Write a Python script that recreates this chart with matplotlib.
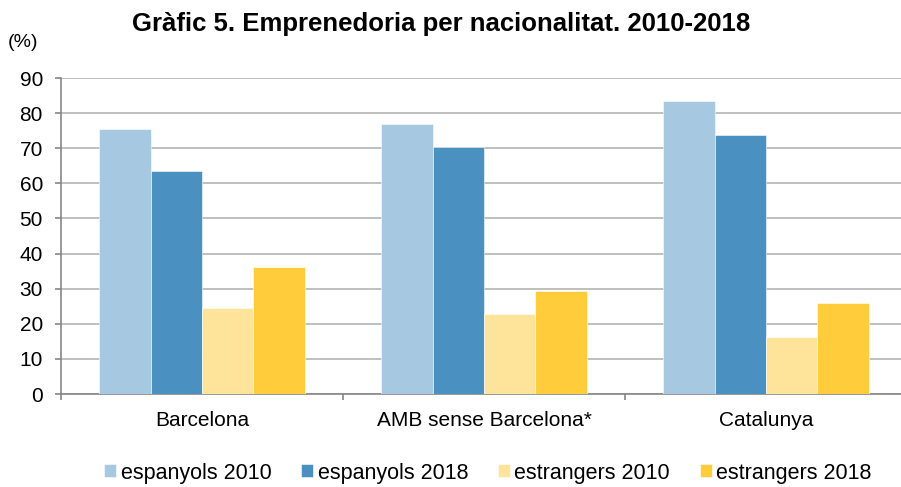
import numpy as np
import matplotlib
matplotlib.use("Agg")
import matplotlib.pyplot as plt

plt.rcParams["font.family"] = ["Liberation Sans", "DejaVu Sans"]

# ── data ------------------------------------------------------------------- #
categories = ["Barcelona", "AMB sense Barcelona*", "Catalunya"]
series = ["espanyols 2010", "espanyols 2018", "estrangers 2010", "estrangers 2018"]
esp_2010 = [75.4, 76.9, 83.5]
esp_2018 = [63.6, 70.3, 73.8]
estr_2010 = [24.4, 22.8, 16.2]
estr_2018 = [36.1, 29.4, 25.8]
values = [esp_2010, esp_2018, estr_2010, estr_2018]
colors = ["#A6C8E0", "#4A91C2", "#FEE49B", "#FFCD3B"]
yticks = list(range(0, 91, 10))

# ── figure ----------------------------------------------------------------- #
fig = plt.figure(figsize=(9.01, 4.87), dpi=100)
ax = fig.add_axes([61 / 901, 93 / 487, 846 / 901, 316 / 487])

x = np.arange(len(categories))
w = 0.182
for i, (name, vals, c) in enumerate(zip(series, values, colors)):
    ax.bar(x + (i - 1.5) * w, vals, w, color=c, label=name,
           edgecolor="white", linewidth=0.4, zorder=3)

ax.set_xlim(-0.5, len(categories) - 0.5)
ax.set_ylim(0, 90)
ax.set_yticks(yticks)
ax.set_yticklabels([str(t) for t in yticks], fontsize=15)
ax.yaxis.grid(True, color="#BFBFBF", linewidth=1.4, zorder=0)

ax.set_xticks(x)
ax.set_xticklabels(categories, fontsize=15)
ax.tick_params(axis="x", length=0, pad=12)
ax.set_xticks(np.arange(-0.5, len(categories), 1.0), minor=True)
ax.tick_params(axis="x", which="minor", length=4, color="#868686", width=1.2)
ax.tick_params(axis="y", length=4, color="#868686", width=1.2, pad=9)

for s in ["top", "right"]:
    ax.spines[s].set_visible(False)
for s in ["left", "bottom"]:
    ax.spines[s].set_color("#868686")
    ax.spines[s].set_linewidth(1.2)

fig.text(441 / 901, 1 - 31 / 487, "Gràfic 5. Emprenedoria per nacionalitat. 2010-2018",
         ha="center", va="baseline", fontsize=18.5, fontweight="bold")
fig.text(8 / 901, 1 - 47 / 487, "(%)", ha="left", va="baseline", fontsize=14)

fig.legend(loc="center", bbox_to_anchor=(488 / 901, 1 - 473 / 487), ncol=4,
           frameon=False, fontsize=15.5, handlelength=0.55, handleheight=0.55,
           handletextpad=0.2, columnspacing=1.4, borderaxespad=0)

fig.savefig("out.png", dpi=100)
